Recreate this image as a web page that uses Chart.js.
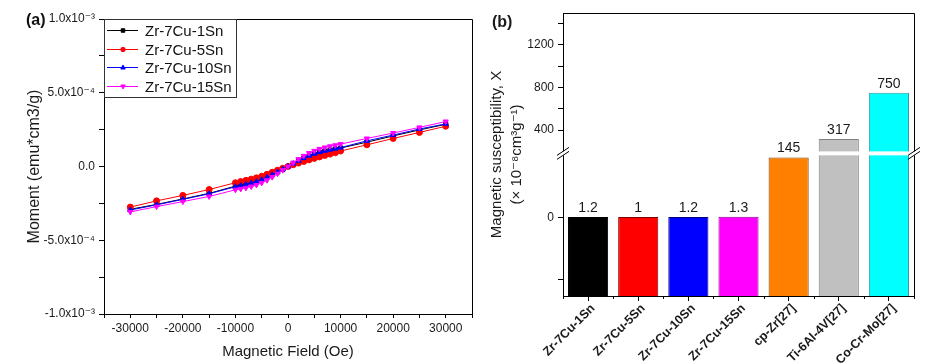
<!DOCTYPE html>
<html><head><meta charset="utf-8">
<script src="https://cdn.jsdelivr.net/npm/chart.js@4.4.0/dist/chart.umd.min.js"></script>
<style>
html,body{margin:0;padding:0;background:#fff;}
#wrap{position:relative;width:945px;height:363px;overflow:hidden;background:#fff;}
#ca{position:absolute;left:0;top:0;}
#cb{position:absolute;left:470px;top:0;}
</style></head><body>
<div id="wrap"><canvas id="ca" width="480" height="363"></canvas><canvas id="cb" width="475" height="363"></canvas></div>
<script>
// ---------- Panel (a) data ----------
const fieldOe = [-30000,-25000,-20000,-15000,-10000,-9000,-8000,-7000,-6000,-5000,-4000,-3000,-2000,-1000,0,1000,2000,3000,4000,5000,6000,7000,8000,9000,10000,15000,20000,25000,30000];
const moment1Sn = [-2.90e-4,-2.57e-4,-2.20e-4,-1.82e-4,-1.33e-4,-1.26e-4,-1.18e-4,-1.09e-4,-0.99e-4,-0.87e-4,-0.71e-4,-0.54e-4,-0.36e-4,-0.18e-4,0,0.19e-4,0.37e-4,0.55e-4,0.70e-4,0.83e-4,0.94e-4,1.03e-4,1.11e-4,1.18e-4,1.25e-4,1.65e-4,2.07e-4,2.48e-4,2.86e-4];
const moment5Sn = [-2.75e-4,-2.33e-4,-1.96e-4,-1.56e-4,-1.10e-4,-1.02e-4,-0.94e-4,-0.86e-4,-0.77e-4,-0.66e-4,-0.53e-4,-0.39e-4,-0.25e-4,-0.12e-4,0,0.12e-4,0.23e-4,0.34e-4,0.45e-4,0.55e-4,0.65e-4,0.75e-4,0.84e-4,0.93e-4,1.05e-4,1.47e-4,1.90e-4,2.31e-4,2.73e-4];
const moment10Sn = [-2.95e-4,-2.60e-4,-2.23e-4,-1.85e-4,-1.37e-4,-1.30e-4,-1.22e-4,-1.13e-4,-1.03e-4,-0.90e-4,-0.74e-4,-0.56e-4,-0.38e-4,-0.19e-4,0,0.20e-4,0.39e-4,0.57e-4,0.73e-4,0.86e-4,0.97e-4,1.06e-4,1.14e-4,1.21e-4,1.28e-4,1.74e-4,2.13e-4,2.54e-4,2.89e-4];
const moment15Sn = [-3.08e-4,-2.72e-4,-2.38e-4,-2.03e-4,-1.58e-4,-1.52e-4,-1.45e-4,-1.36e-4,-1.25e-4,-1.11e-4,-0.93e-4,-0.72e-4,-0.49e-4,-0.25e-4,0,0.26e-4,0.50e-4,0.72e-4,0.91e-4,1.06e-4,1.19e-4,1.29e-4,1.37e-4,1.44e-4,1.52e-4,1.90e-4,2.27e-4,2.65e-4,3.05e-4];
const seriesNames = ['Zr-7Cu-1Sn','Zr-7Cu-5Sn','Zr-7Cu-10Sn','Zr-7Cu-15Sn'];
const seriesMoments = [moment1Sn, moment5Sn, moment10Sn, moment15Sn];
const xTickLabelValues = [-30000,-20000,-10000,0,10000,20000,30000];
const yTickValuesA = [-1e-3,-5e-4,0,5e-4,1e-3];
const yTickLabelsA = ['-1.0x10\u207B\u00B3','-5.0x10\u207B\u2074','0.0','5.0x10\u207B\u2074','1.0x10\u207B\u00B3'];

// ---------- Panel (b) data ----------
const materials = ['Zr-7Cu-1Sn','Zr-7Cu-5Sn','Zr-7Cu-10Sn','Zr-7Cu-15Sn','cp-Zr[27]','Ti-6Al-4V[27]','Co-Cr-Mo[27]'];
const susceptibility = [1.2, 1, 1.2, 1.3, 145, 317, 750];
const suscTickValues = [-150, 0, 400, 600, 800, 1000, 1200, 1400];
const suscTickLabels = ['', '0', '400', '', '800', '', '1200', ''];
const axisBreak = {min: -190, lowerMax: 150, upperMin: 200, max: 1500};

// ---------- styles ----------
const seriesColors = ['#000000','#FF0000','#0000FF','#FF00FF'];
const pointStyles = ['rect','circle','triangle','triangle'];
const pointRotations = [0,0,0,180];
const barFill = ['#000000','#FF0000','#0000FF','#FF00FF','#FF8000','#C0C0C0','#00FFFF'];
const barEdge = ['#000000','#800000','#000080','#900090','#804000','#808080','#3A9A9A'];
const breakLayout = {lowerFrac: 0.497, gapFrac: 0.014};

Chart.defaults.font.family = "'Liberation Sans', Arial, 'DejaVu Sans', sans-serif";
Chart.defaults.color = '#1a1a1a';

// ---------- broken linear scale ----------
class BrokenScale extends Chart.LinearScale {
  buildTicks() { return suscTickValues.map(v => ({value: v})); }
  _segs() {
    const h = this.bottom - this.top;
    const lo = h * breakLayout.lowerFrac, gap = h * breakLayout.gapFrac, up = h - lo - gap;
    return {lo, gap, up};
  }
  getPixelForValue(v) {
    if (v === null || v === undefined || isNaN(v)) return NaN;
    const {lo, gap, up} = this._segs();
    const b = axisBreak;
    let d;
    if (v <= b.lowerMax) d = (v - this.min) / (b.lowerMax - this.min) * lo;
    else if (v >= b.upperMin) d = lo + gap + (v - b.upperMin) / (this.max - b.upperMin) * up;
    else d = lo + (v - b.lowerMax) / (b.upperMin - b.lowerMax) * gap;
    return this.bottom - d;
  }
  getValueForPixel(p) {
    const {lo, gap, up} = this._segs();
    const b = axisBreak;
    const d = this.bottom - p;
    if (d <= lo) return this.min + d / lo * (b.lowerMax - this.min);
    if (d >= lo + gap) return b.upperMin + (d - lo - gap) / up * (this.max - b.upperMin);
    return b.lowerMax + (d - lo) / gap * (b.upperMin - b.lowerMax);
  }
}
BrokenScale.id = 'broken';
BrokenScale.defaults = {};
Chart.register(BrokenScale);

// ---------- helpers ----------
function drawMarker(ctx, style, rot, x, y, r, color) {
  ctx.save();
  ctx.fillStyle = color; ctx.strokeStyle = color; ctx.lineWidth = 1;
  ctx.translate(x, y); ctx.rotate(rot * Math.PI / 180);
  ctx.beginPath();
  if (style === 'rect') { ctx.rect(-r * 0.8, -r * 0.8, r * 1.6, r * 1.6); }
  else if (style === 'circle') { ctx.arc(0, 0, r, 0, Math.PI * 2); }
  else { ctx.moveTo(0, -r * 1.1); ctx.lineTo(r * 1.0, r * 0.7); ctx.lineTo(-r * 1.0, r * 0.7); ctx.closePath(); }
  ctx.fill(); ctx.stroke();
  ctx.restore();
}

const panelA = {
  id: 'panelA',
  afterDraw(chart) {
    const {ctx, chartArea: a} = chart;
    ctx.save();
    ctx.strokeStyle = '#000'; ctx.lineWidth = 1;
    ctx.beginPath();
    ctx.moveTo(a.left, a.top + 0.5); ctx.lineTo(a.right + 0.5, a.top + 0.5); ctx.lineTo(a.right + 0.5, a.bottom);
    ctx.stroke();
    // legend
    const x0 = a.left, y0 = a.top, w = 132, h = 78;
    ctx.fillStyle = '#fff'; ctx.fillRect(x0 + 1, y0 + 1, w, h);
    ctx.strokeStyle = '#333'; ctx.strokeRect(x0 + 0.5, y0 + 0.5, w, h);
    ctx.font = "15px 'Liberation Sans', Arial, sans-serif";
    ctx.textBaseline = 'middle'; ctx.textAlign = 'left';
    chart.data.datasets.forEach((ds, i) => {
      const cy = Math.round(y0 + 11 + i * 18.6) + 0.5;
      ctx.strokeStyle = seriesColors[i]; ctx.lineWidth = 1;
      ctx.beginPath(); ctx.moveTo(x0 + 3, cy); ctx.lineTo(x0 + 34, cy); ctx.stroke();
      drawMarker(ctx, pointStyles[i], pointRotations[i], x0 + 19, cy, 2.2, seriesColors[i]);
      ctx.fillStyle = '#111';
      ctx.fillText(ds.label, x0 + 41, cy + 1);
    });
    ctx.font = "bold 16px 'Liberation Sans', Arial, sans-serif";
    ctx.fillStyle = '#111';
    ctx.fillText('(a)', 26, 21);
    ctx.restore();
  }
};

const chartA = new Chart(document.getElementById('ca'), {
  type: 'line',
  data: {
    datasets: seriesNames.map((name, i) => ({
      label: name,
      data: fieldOe.map((x, j) => ({x: x, y: seriesMoments[i][j]})),
      borderColor: seriesColors[i],
      backgroundColor: seriesColors[i],
      pointStyle: pointStyles[i],
      pointRotation: pointRotations[i],
      pointRadius: 3,
      pointBorderWidth: 1,
      borderWidth: 1,
      tension: 0,
      order: 4 - i
    }))
  },
  options: {
    responsive: false, animation: false, events: [],
    layout: {padding: {top: 19, right: 8, left: 0, bottom: 0}},
    plugins: {legend: {display: false}, tooltip: {enabled: false}},
    scales: {
      x: {
        type: 'linear', min: -35000, max: 35000,
        ticks: {stepSize: 5000, autoSkip: false, maxRotation: 0, padding: 3, font: {size: 12}, color: '#1a1a1a',
          callback: v => xTickLabelValues.includes(v) ? String(v) : ''},
        grid: {drawOnChartArea: false, tickLength: 4, color: '#000'},
        border: {color: '#000'},
        title: {display: true, text: 'Magnetic Field (Oe)', font: {size: 15}, color: '#1a1a1a', padding: {top: 0, bottom: 2}},
        afterFit: s => { s.height = 49; }
      },
      y: {
        type: 'linear', min: -1e-3, max: 1e-3,
        ticks: {stepSize: 2.5e-4, autoSkip: false, padding: 4, font: {size: 12}, color: '#1a1a1a',
          callback: v => { const k = yTickValuesA.findIndex(t => Math.abs(t - v) < 1e-9); return k >= 0 ? yTickLabelsA[k] : ''; }},
        grid: {drawOnChartArea: false, tickLength: 5, color: '#000'},
        border: {color: '#000'},
        title: {display: true, text: 'Moment (emu*cm3/g)', font: {size: 16}, color: '#1a1a1a', padding: {top: 25, bottom: 0}},
        afterFit: s => { s.width = 104; }
      }
    }
  },
  plugins: [panelA]
});

const panelB = {
  id: 'panelB',
  afterDatasetsDraw(chart) {
    const {ctx, chartArea: a, scales: {x, y}} = chart;
    const yLo = y.getPixelForValue(axisBreak.lowerMax);
    const yHi = y.getPixelForValue(axisBreak.upperMin);
    ctx.save();
    // gap band
    ctx.fillStyle = '#fff';
    ctx.fillRect(a.left - 2, yHi, a.right - a.left + 4, yLo - yHi);
    // frame
    ctx.strokeStyle = '#000'; ctx.lineWidth = 1;
    ctx.beginPath();
    ctx.moveTo(a.left, a.top + 0.5); ctx.lineTo(a.right + 0.5, a.top + 0.5); ctx.lineTo(a.right + 0.5, yHi);
    ctx.moveTo(a.right + 0.5, yLo); ctx.lineTo(a.right + 0.5, a.bottom);
    ctx.stroke();
    // break marks
    const mid = (yLo + yHi) / 2;
    [a.left, a.right].forEach(bx => {
      [-2, 2].forEach(d => {
        ctx.beginPath(); ctx.moveTo(bx - 6, mid + d + 4); ctx.lineTo(bx + 6, mid + d - 4); ctx.stroke();
      });
    });
    // minor x ticks between categories
    const n = chart.data.labels.length;
    ctx.beginPath();
    for (let i = 0; i <= n; i++) {
      let px;
      if (i === 0) px = a.left; else if (i === n) px = a.right;
      else px = (x.getPixelForValue(i - 1) + x.getPixelForValue(i)) / 2;
      px = Math.round(px) + 0.5;
      ctx.moveTo(px, a.bottom); ctx.lineTo(px, a.bottom + 3);
    }
    ctx.stroke();
    // value labels
    const meta = chart.getDatasetMeta(0);
    ctx.font = "14px 'Liberation Sans', Arial, sans-serif";
    ctx.fillStyle = '#1a1a1a'; ctx.textAlign = 'center'; ctx.textBaseline = 'bottom';
    meta.data.forEach((el, i) => {
      ctx.fillText(String(chart.data.datasets[0].data[i]), el.x, el.y - 2);
    });
    ctx.font = "bold 16px 'Liberation Sans', Arial, sans-serif";
    ctx.textAlign = 'left'; ctx.textBaseline = 'middle';
    ctx.fillText('(b)', 22, 23);
    ctx.restore();
  }
};

const chartB = new Chart(document.getElementById('cb'), {
  type: 'bar',
  data: {
    labels: materials,
    datasets: [{
      data: susceptibility,
      backgroundColor: barFill,
      borderColor: barEdge,
      borderWidth: 1,
      base: axisBreak.min,
      barPercentage: 0.8,
      categoryPercentage: 1
    }]
  },
  options: {
    responsive: false, animation: false, events: [],
    layout: {padding: {top: 13, right: 31, left: 0, bottom: 0}},
    plugins: {legend: {display: false}, tooltip: {enabled: false}},
    scales: {
      x: {
        ticks: {autoSkip: false, minRotation: 45, maxRotation: 45, padding: 0, labelOffset: 5, font: {size: 12.5, weight: 'bold'}, color: '#1a1a1a'},
        grid: {offset: false, drawOnChartArea: false, tickLength: 5, color: '#000'},
        border: {color: '#000'},
        afterFit: s => { s.height = 67; }
      },
      y: {
        type: 'broken', min: axisBreak.min, max: axisBreak.max,
        ticks: {autoSkip: false, padding: 4, font: {size: 12}, color: '#1a1a1a',
          callback: v => { const k = suscTickValues.indexOf(v); return k >= 0 ? suscTickLabels[k] : ''; }},
        grid: {drawOnChartArea: false, tickLength: 5, color: '#000'},
        border: {color: '#000'},
        title: {display: true, text: ['Magnetic susceptibility, X', '(\u00D7 10\u207B\u2078cm\u00B3g\u207B\u00B9)'], font: {size: 15, lineHeight: 1.33}, color: '#1a1a1a', padding: {top: 17, bottom: 0}},
        afterFit: s => { s.width = 93; }
      }
    }
  },
  plugins: [panelB]
});
</script>
</body></html>
